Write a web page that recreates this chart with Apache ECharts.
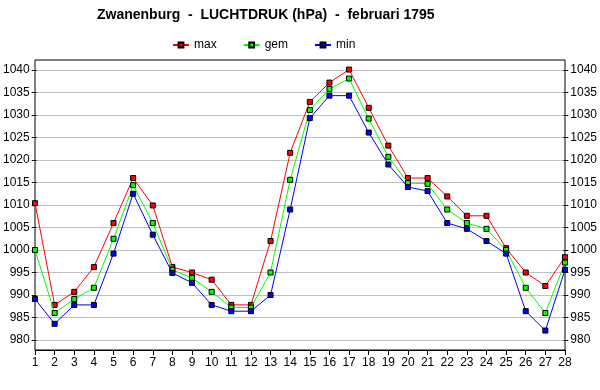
<!DOCTYPE html>
<html><head><meta charset="utf-8">
<script src="https://cdn.jsdelivr.net/npm/echarts@6/dist/echarts.min.js"></script>
<style>html,body{margin:0;padding:0;background:#fff}#c{width:600px;height:390px}</style>
</head><body><div id="c"></div>
<script>
const days = ['1','2','3','4','5','6','7','8','9','10','11','12','13','14','15','16','17','18','19','20','21','22','23','24','25','26','27','28'];
const maxVals = [1010.4,987.8,990.7,996.2,1006.0,1016.0,1009.9,996.2,995.0,993.4,987.8,987.8,1002.0,1021.6,1032.9,1037.2,1040.1,1031.6,1023.2,1016.0,1016.0,1011.9,1007.6,1007.6,1000.4,995.0,992.0,998.4];
const gemVals = [1000.0,986.0,989.1,991.6,1002.5,1014.4,1006.0,995.6,993.8,990.7,987.2,987.2,995.0,1015.6,1031.1,1035.8,1038.1,1029.2,1020.7,1014.9,1014.7,1009.0,1006.0,1004.7,1000.0,991.6,986.0,997.2];
const minVals = [989.1,983.6,987.8,987.8,999.2,1012.5,1003.4,994.9,992.7,987.8,986.4,986.4,990.0,1009.0,1029.3,1034.3,1034.3,1026.1,1019.0,1014.0,1013.1,1006.0,1004.7,1002.0,999.2,986.4,982.1,995.6];
const seriesNames = ['max','gem','min'];
const seriesColors = ['#ff0000','#00ff00','#0000ff'];
const yTickMin = 980, yTickMax = 1040, yTickStep = 5;
const titleText = 'Zwanenburg  -  LUCHTDRUK (hPa)  -  februari 1795';

const FONT = 'Liberation Sans, Arial, sans-serif';
const pad = 10 / 4.5;
const chart = echarts.init(document.getElementById('c'));
const dataSets = [maxVals, gemVals, minVals];
const fmt = v => String(Math.round(v));
chart.setOption({
  animation: false,
  backgroundColor: '#ffffff',
  title: { text: titleText, left: 92, top: 3,
    textStyle: { fontFamily: FONT, fontSize: 14, fontWeight: 'bold', color: '#000' } },
  legend: { data: seriesNames, left: 167, top: 34, itemGap: 26, itemWidth: 16, itemHeight: 6,
    textStyle: { fontFamily: FONT, fontSize: 12, color: '#000' } },
  grid: [
    { left: 35, right: 35, top: 60, bottom: 40, show: true, borderColor: '#000', borderWidth: 1, backgroundColor: 'transparent', z: 3 },
    { left: 35, right: 35, top: 70, bottom: 50, show: false }
  ],
  xAxis: [
    { type: 'category', gridIndex: 0, data: days, boundaryGap: false,
      axisLine: { show: true, lineStyle: { color: '#000', width: 1 } },
      axisTick: { show: true, length: 5, alignWithLabel: true, lineStyle: { color: '#000' } },
      axisLabel: { fontFamily: FONT, fontSize: 12, color: '#000', margin: 7, interval: 0 },
      splitLine: { show: false } },
    { type: 'category', gridIndex: 1, data: days, boundaryGap: false, show: false }
  ],
  yAxis: [
    { type: 'value', gridIndex: 0, min: yTickMin - pad, max: yTickMax + pad, show: false, splitLine: { show: false } },
    { type: 'value', gridIndex: 1, min: yTickMin, max: yTickMax, interval: yTickStep, position: 'left',
      axisLine: { show: false }, axisTick: { show: true, length: 5, lineStyle: { color: '#000' } },
      axisLabel: { fontFamily: FONT, fontSize: 12, color: '#000', margin: 7, formatter: fmt },
      splitLine: { show: true, lineStyle: { color: '#c0c0c0', width: 1 } } },
    { type: 'value', gridIndex: 1, min: yTickMin, max: yTickMax, interval: yTickStep, position: 'right',
      axisLine: { show: false }, axisTick: { show: true, length: 5, lineStyle: { color: '#000' } },
      axisLabel: { fontFamily: FONT, fontSize: 12, color: '#000', margin: 7, formatter: fmt },
      splitLine: { show: false } }
  ],
  series: seriesNames.map((n, i) => ({
    name: n, type: 'line', xAxisIndex: 0, yAxisIndex: 0, data: dataSets[i],
    symbol: 'rect', symbolSize: 5, showAllSymbol: true,
    lineStyle: { color: seriesColors[i], width: 1 },
    itemStyle: { color: seriesColors[i], borderColor: '#000', borderWidth: 1 },
    emphasis: { disabled: true }, z: 5 + i
  }))
});
</script></body></html>
